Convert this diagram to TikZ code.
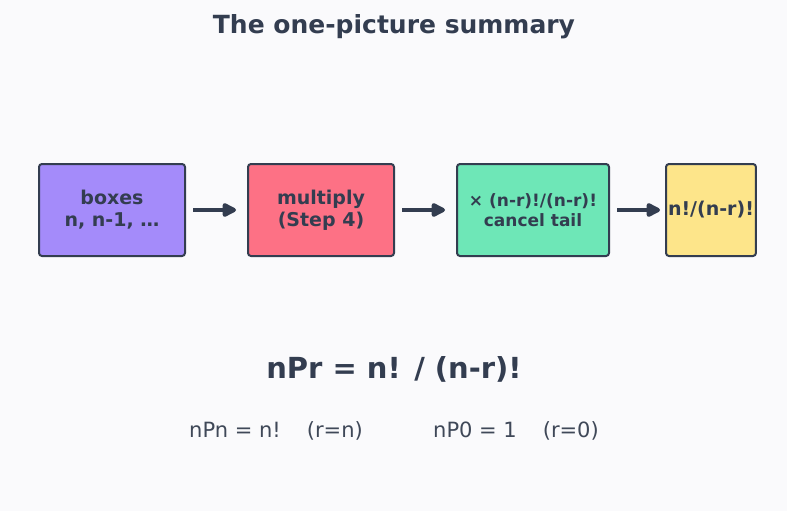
\documentclass[tikz,border=0pt]{standalone}
\usepackage{fontspec}
\setmainfont{DejaVu Sans}
\usetikzlibrary{arrows.meta, positioning}

\definecolor{bgcol}{RGB}{250,250,252}
\definecolor{ink}{RGB}{51,61,80}
\definecolor{soft}{RGB}{63,72,88}
\definecolor{violetfill}{RGB}{164,139,250}
\definecolor{rosefill}{RGB}{253,113,133}
\definecolor{mintfill}{RGB}{110,231,183}
\definecolor{amberfill}{RGB}{253,229,138}

\begin{document}
\begin{tikzpicture}[
    x=1pt, y=-1pt,
    node distance=61pt,
    flowbox/.style={rectangle, draw=ink, line width=2pt, rounded corners=3pt, align=center, text=ink, minimum height=92pt, inner sep=2pt, font=\bfseries\fontsize{19}{22}\selectfont},
    arrow/.style={-{Triangle[length=16pt, width=15pt, round]}, line width=4pt, draw=ink, shorten <=7pt, shorten >=11pt}
]

% Canvas
\fill[bgcol] (0,0) rectangle (787,511);
\useasboundingbox (0,0) rectangle (787,511);

% Title
\node[text=ink, font=\bfseries\fontsize{25}{30}\selectfont] (title) at (394,27) {The one-picture summary};

% Flow of boxes
\node[flowbox, fill=violetfill, minimum width=146pt] (boxes) at (112,210) {boxes\\n, n-1, …};
\node[flowbox, fill=rosefill, minimum width=146pt, right=of boxes] (multiply) {multiply\\(Step 4)};
\node[flowbox, fill=mintfill, minimum width=152pt, right=of multiply, font=\bfseries\fontsize{17}{20}\selectfont] (cancel) {× (n-r)!/(n-r)!\\cancel tail};
\node[flowbox, fill=amberfill, minimum width=89pt, right=55pt of cancel] (result) {n!/(n-r)!};

% Connections
\draw[arrow] (boxes) -- (multiply);
\draw[arrow] (multiply) -- (cancel);
\draw[arrow, shorten >=5pt] (cancel) -- (result);

% Formula
\node[text=ink, font=\bfseries\fontsize{29}{34}\selectfont] (formula) at (394,369) {nPr = n! / (n-r)!};
\node[text=soft, font=\fontsize{21}{25}\selectfont] (full) at (276,431) {nPn = n!\hspace{26pt}(r=n)};
\node[text=soft, font=\fontsize{21}{25}\selectfont] (empty) at (516,431) {nP0 = 1\hspace{26pt}(r=0)};

\end{tikzpicture}
\end{document}
